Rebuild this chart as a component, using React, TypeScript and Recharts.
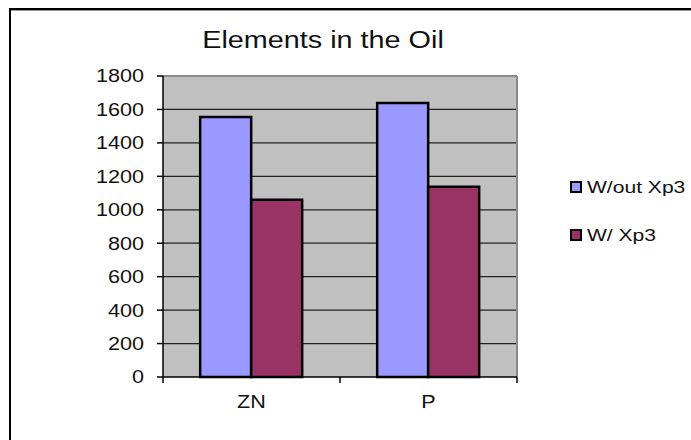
import React from "react";
import {
  BarChart,
  Bar,
  XAxis,
  YAxis,
  CartesianGrid,
} from "recharts";

const categories = ["ZN", "P"];
const withoutXp3 = [1555, 1638];
const withXp3 = [1060, 1138];
const yTicks = [0, 200, 400, 600, 800, 1000, 1200, 1400, 1600, 1800];

const seriesList = [
  { key: "without", name: "W/out Xp3", color: "#9999FF", values: withoutXp3 },
  { key: "with", name: "W/ Xp3", color: "#993366", values: withXp3 },
];

const chartData = categories.map((name, i) => {
  const row: Record<string, string | number> = { name };
  seriesList.forEach((s) => {
    row[s.key] = s.values[i];
  });
  return row;
});

const W = 691;
const H = 440;
const margin = { top: 76, right: 174, bottom: 33, left: 103 };
const X_AXIS_H = 30;
const Y_AXIS_W = 60;
const PLOT_LEFT = margin.left + Y_AXIS_W;
const PLOT_RIGHT = W - margin.right;
const PLOT_BOTTOM = H - margin.bottom - X_AXIS_H;
const BAND = (PLOT_RIGHT - PLOT_LEFT) / categories.length;
const FONT = "'Liberation Sans', Arial, sans-serif";
const STRETCH = 1.2;

const YTick = (props: any) => {
  const { x, y, payload } = props;
  return (
    <g transform={`translate(${x},${y}) scale(${STRETCH},1)`}>
      <text
        x={0}
        y={0}
        dy="0.36em"
        textAnchor="end"
        fontSize={18}
        fontFamily={FONT}
        fill="#111"
      >
        {payload.value}
      </text>
    </g>
  );
};

const XTick = (props: any) => {
  const { x, payload, index } = props;
  const last = index === categories.length - 1;
  return (
    <g>
      <line
        x1={x - BAND / 2}
        x2={x - BAND / 2}
        y1={PLOT_BOTTOM}
        y2={PLOT_BOTTOM + 6}
        stroke="#000"
        strokeWidth={1.5}
      />
      {last && (
        <line
          x1={x + BAND / 2}
          x2={x + BAND / 2}
          y1={PLOT_BOTTOM}
          y2={PLOT_BOTTOM + 6}
          stroke="#000"
          strokeWidth={1.5}
        />
      )}
      <g transform={`translate(${x},${PLOT_BOTTOM + 31}) scale(${STRETCH},1)`}>
        <text
          x={0}
          y={0}
          textAnchor="middle"
          fontSize={18}
          fontFamily={FONT}
          fill="#111"
        >
          {payload.value}
        </text>
      </g>
    </g>
  );
};

export default function App() {
  return (
    <div
      style={{
        position: "absolute",
        left: 0,
        top: 0,
        width: W,
        height: H,
        background: "#fff",
        overflow: "hidden",
      }}
    >
      {/* outer frame, only top and left edges show */}
      <div
        style={{
          position: "absolute",
          left: 9,
          top: 8,
          width: W,
          height: H,
          borderTop: "2px solid #000",
          borderLeft: "2px solid #000",
        }}
      >
        <div style={{ height: 1, background: "#9a9a9a" }} />
      </div>

      <div style={{ position: "absolute", left: 0, top: 0 }}>
        <BarChart
          width={W}
          height={H}
          data={chartData}
          margin={margin}
          barCategoryGap="21%"
          barGap={0}
        >
          <CartesianGrid
            vertical={false}
            fill="#C0C0C0"
            stroke="#222"
            strokeWidth={1.2}
            horizontalValues={yTicks.slice(1, -1)}
          />
          <CartesianGrid
            fill="none"
            stroke="#8a8a8a"
            strokeWidth={2}
            horizontalValues={[yTicks[yTicks.length - 1]]}
            verticalCoordinatesGenerator={({ offset }: any) => [
              offset.left + offset.width,
            ]}
          />
          <XAxis
            dataKey="name"
            height={X_AXIS_H}
            tickLine={false}
            axisLine={{ stroke: "#000", strokeWidth: 1.5 }}
            tick={<XTick />}
            interval={0}
          />
          <YAxis
            width={Y_AXIS_W}
            domain={[0, 1800]}
            ticks={yTicks}
            interval={0}
            tickSize={6}
            tickMargin={13}
            tickLine={{ stroke: "#000", strokeWidth: 1.5 }}
            axisLine={{ stroke: "#000", strokeWidth: 1.5 }}
            tick={<YTick />}
          />
          {seriesList.map((s) => (
            <Bar
              key={s.key}
              dataKey={s.key}
              name={s.name}
              fill={s.color}
              stroke="#000"
              strokeWidth={2.5}
              isAnimationActive={false}
            />
          ))}
        </BarChart>
      </div>

      <svg
        width={W}
        height={H}
        style={{ position: "absolute", left: 0, top: 0, pointerEvents: "none" }}
      >
        <g transform={`translate(323,48) scale(${STRETCH},1)`}>
          <text
            x={0}
            y={0}
            textAnchor="middle"
            fontSize={24}
            fontFamily={FONT}
            fill="#111"
          >
            Elements in the Oil
          </text>
        </g>
        {seriesList.map((s, i) => {
          const cy = 187 + i * 48;
          return (
            <g key={s.key}>
              <rect
                x={571}
                y={cy - 5}
                width={10}
                height={10}
                fill={s.color}
                stroke="#000"
                strokeWidth={2}
              />
              <g transform={`translate(587,${cy + 6}) scale(1.24,1)`}>
                <text
                  x={0}
                  y={0}
                  fontSize={17}
                  fontFamily={FONT}
                  fill="#111"
                >
                  {s.name}
                </text>
              </g>
            </g>
          );
        })}
      </svg>
    </div>
  );
}
